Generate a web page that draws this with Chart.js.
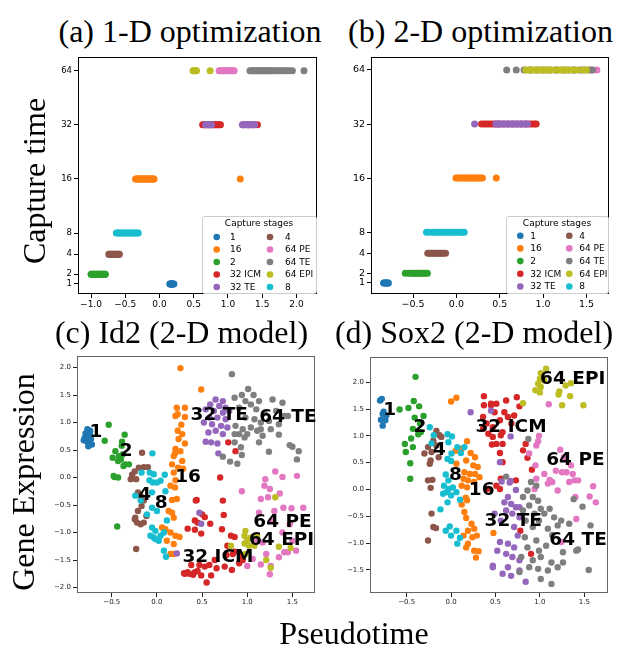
<!DOCTYPE html>
<html>
<head>
<meta charset="utf-8">
<script src="https://cdn.jsdelivr.net/npm/chart.js@4.4.1/dist/chart.umd.min.js"></script>
<style>
  html, body { margin: 0; padding: 0; background: #fff; }
  #fig { position: relative; width: 617px; height: 647px; overflow: hidden; }
  canvas { position: absolute; }
  .txt { position: absolute; font-family: "Liberation Serif", serif; font-size: 32px; line-height: 1;
         color: #000; white-space: nowrap; transform: translate(-50%, -50%); }
  .vert { transform: translate(-50%, -50%) rotate(-90deg); }
</style>
</head>
<body>
<div id="fig">
  <canvas id="panelA"></canvas>
  <canvas id="panelB"></canvas>
  <canvas id="panelC"></canvas>
  <canvas id="panelD"></canvas>
  <div class="txt" style="left:190px; top:30.5px">(a) 1-D optimization</div>
  <div class="txt" style="left:480.5px; top:30.5px">(b) 2-D optimization</div>
  <div class="txt" style="left:181.5px; top:332px">(c) Id2 (2-D model)</div>
  <div class="txt" style="left:474px; top:332px">(d) Sox2 (2-D model)</div>
  <div class="txt vert" style="left:34px; top:181px">Capture time</div>
  <div class="txt vert" style="left:23px; top:482px">Gene Expression</div>
  <div class="txt" style="left:354px; top:633px">Pseudotime</div>
</div>
<script>
// stages in legend order
const stages = ["1", "16", "2", "32 ICM", "32 TE", "4", "64 PE", "64 TE", "64 EPI", "8"];
const stageColors = ["#1f77b4", "#ff7f0e", "#2ca02c", "#d62728", "#9467bd",
                     "#8c564b", "#e377c2", "#7f7f7f", "#bcbd22", "#17becf"];
const stageCaptureTime = [1, 16, 2, 32, 32, 4, 64, 64, 64, 8];

// capture time axis (rows are where each time sits on the y axis)
const captureTimes = [1, 2, 4, 8, 16, 32, 64];
const captureRows = [3.06, 3.24, 3.61, 4, 5, 6, 7];

const pseudoTicksA = [-1.0, -0.5, 0.0, 0.5, 1.0, 1.5, 2.0];
const pseudoTicksB = [-0.5, 0.0, 0.5, 1.0, 1.5];
const pseudoTicksCD = [-0.5, 0.0, 0.5, 1.0, 1.5];
const exprTicksC = [-2.0, -1.5, -1.0, -0.5, 0.0, 0.5, 1.0, 1.5, 2.0];
const exprTicksD = [-1.5, -1.0, -0.5, 0.0, 0.5, 1.0, 1.5, 2.0];

// (a) pseudotime per stage, 1-D optimization
const pseudotime1D = [
  [0.15, 0.16, 0.165, 0.17, 0.18, 0.185, 0.19, 0.2, 0.21],
  [-0.35, -0.34, -0.32, -0.31, -0.3, -0.28, -0.27, -0.25, -0.24, -0.23, -0.21, -0.2, -0.19, -0.17, -0.16, -0.14, -0.13, -0.12, -0.1, -0.09, -0.08, 1.18],
  [-1.0, -0.99, -0.97, -0.96, -0.95, -0.93, -0.92, -0.91, -0.9, -0.88, -0.87, -0.86, -0.85, -0.84, -0.82, -0.81, -0.8, -0.79],
  [0.63, 0.65, 0.68, 0.71, 0.74, 0.77, 0.79, 0.81, 0.83, 0.85, 0.87, 0.89, 1.22, 1.3, 1.38, 1.43],
  [0.67, 0.69, 0.71, 0.73, 0.75, 0.76, 1.21, 1.23, 1.25, 1.27, 1.28, 1.3, 1.32, 1.33, 1.35, 1.37, 1.39],
  [-0.74, -0.73, -0.72, -0.7, -0.69, -0.68, -0.66, -0.65, -0.64, -0.62, -0.61, -0.6, -0.585],
  [0.87, 0.89, 0.91, 0.93, 0.95, 0.97, 0.99, 1.01, 1.03, 1.05, 1.07, 1.09],
  [1.32, 1.34, 1.36, 1.38, 1.4, 1.42, 1.44, 1.46, 1.48, 1.5, 1.52, 1.54, 1.56, 1.58, 1.6, 1.62, 1.64, 1.66, 1.69, 1.72, 1.75, 1.78, 1.81, 1.84, 1.87, 1.9, 1.94, 2.11],
  [0.49, 0.5, 0.52, 0.53, 0.54, 0.74],
  [-0.63, -0.61, -0.59, -0.57, -0.55, -0.53, -0.51, -0.49, -0.47, -0.45, -0.43, -0.41, -0.39, -0.37, -0.35, -0.33, -0.31]
];

// (b) pseudotime per stage, 2-D optimization
const pseudotime2D = [
  [-0.84, -0.83, -0.82, -0.81, -0.8, -0.79, -0.785],
  [-0.005, 0.02, 0.04, 0.06, 0.08, 0.1, 0.12, 0.14, 0.16, 0.18, 0.2, 0.22, 0.24, 0.26, 0.28, 0.3, 0.46],
  [-0.59, -0.55, -0.52, -0.5, -0.48, -0.46, -0.44, -0.42, -0.4, -0.38, -0.36, -0.335],
  [0.29, 0.32, 0.35, 0.38, 0.41, 0.44, 0.47, 0.5, 0.55, 0.6, 0.65, 0.7, 0.75, 0.8, 0.84, 0.87, 0.9, 0.92],
  [0.21, 0.455, 0.48, 0.5, 0.53, 0.55, 0.58, 0.6, 0.63, 0.65, 0.68, 0.7, 0.73, 0.75, 0.78, 0.8, 0.82],
  [-0.33, -0.31, -0.29, -0.27, -0.25, -0.23, -0.21, -0.19, -0.17, -0.15, -0.125],
  [0.85, 0.95, 1.05, 1.15, 1.25, 1.35, 1.45, 1.55, 1.62],
  [0.58, 0.69, 0.78, 0.85, 0.92, 1.0, 1.08, 1.15, 1.22, 1.3, 1.36, 1.42, 1.48, 1.53, 1.57],
  [0.8, 0.83, 0.86, 0.89, 0.92, 0.95, 0.98, 1.01, 1.04, 1.07, 1.1, 1.16, 1.19, 1.22, 1.25, 1.28, 1.34, 1.38, 1.45, 1.5],
  [-0.345, -0.32, -0.28, -0.25, -0.22, -0.19, -0.16, -0.13, -0.1, -0.07, -0.04, -0.01, 0.02, 0.05, 0.07, 0.09]
];

// (c) Id2 expression: [pseudotime, expression]
const id2Points = [
  [[-0.77,0.88],[-0.74,0.85],[-0.79,0.8],[-0.76,0.76],[-0.8,0.72],[-0.73,0.7],[-0.78,0.66],[-0.75,0.63],[-0.72,0.6],[-0.76,0.57],[-0.81,0.68],[-0.74,0.78]],
  [[0.26,1.99],[0.49,1.6],[0.22,1.27],[0.31,1.27],[0.205,1.12],[0.31,1.1],[0.23,1.15],[0.27,0.96],[0.23,0.85],[0.28,0.79],[0.24,0.7],[0.31,0.62],[0.205,0.52],[0.26,0.48],[0.186,0.39],[0.28,0.3],[0.168,0.24],[0.235,0.18],[0.186,0.09],[0.29,0.16],[0.2,0.44],[0.205,-0.05],[0.15,-0.15],[0.2,-0.18],[0.168,-0.41],[0.22,-0.39],[0.13,-0.61],[0.168,-0.64],[0.186,-0.73],[0.057,-0.91],[0.094,-0.94],[0.15,-1.0],[0.205,-1.06],[0.25,-1.08],[0.11,-1.15],[0.186,-1.21],[0.15,-1.39],[0.186,-1.39]],
  [[-0.534,0.96],[-0.578,0.67],[-0.357,0.78],[-0.386,0.65],[-0.39,0.58],[-0.46,0.48],[-0.49,0.36],[-0.42,0.39],[-0.38,0.42],[-0.43,0.3],[-0.4,0.33],[-0.35,0.24],[-0.31,0.24],[-0.37,0.21],[-0.47,0.01],[-0.43,0.0],[-0.48,0.03],[-0.44,-0.89]],
  [[0.7,0.0],[0.44,-0.41],[0.43,-0.42],[0.5,-0.67],[0.45,-0.82],[0.42,-0.78],[0.53,-0.72],[0.59,-0.84],[0.42,-0.95],[0.49,-1.02],[0.34,-0.93],[0.73,-0.42],[0.74,-0.68],[0.72,-0.94],[0.82,-1.06],[0.78,-1.24],[0.84,-1.39],[0.86,-1.08],[0.86,-1.35],[0.77,-1.41],[0.64,-1.5],[0.58,-1.59],[0.53,-1.62],[0.47,-1.59],[0.38,-1.59],[0.31,-1.75],[0.36,-1.75],[0.42,-1.72],[0.49,-1.78],[0.55,-1.91],[0.6,-1.78],[0.66,-1.65],[0.75,-1.62],[0.83,-1.68],[0.91,-1.56],[0.95,-1.5],[0.93,-1.41],[0.79,0.64],[0.87,0.48],[0.3,-1.74],[0.34,-1.72],[0.4,-1.77],[0.45,-1.7]],
  [[0.65,1.42],[0.73,1.39],[0.59,1.33],[0.69,1.3],[0.76,1.27],[0.54,1.24],[0.63,1.21],[0.73,1.18],[0.8,1.21],[0.58,1.09],[0.67,1.09],[0.76,1.06],[0.52,1.0],[0.61,0.97],[0.71,0.94],[0.78,0.91],[0.65,0.85],[0.73,0.79],[0.57,0.82],[0.54,0.65],[0.6,0.64],[0.67,0.62],[0.68,0.44],[0.47,-0.64],[0.49,-0.84],[0.22,-1.38]],
  [[-0.165,0.45],[-0.2,0.18],[-0.146,0.19],[-0.1,0.19],[-0.246,0.11],[-0.275,0.05],[-0.29,-0.03],[-0.23,-0.03],[-0.21,-0.27],[-0.18,-0.33],[-0.146,-0.42],[-0.17,-0.52],[-0.21,-0.61],[-0.24,-0.73],[-0.245,-0.76],[-0.22,-0.82],[-0.18,-0.85],[-0.146,-0.82],[-0.116,-0.7],[-0.23,-1.3]],
  [[1.31,0.11],[1.39,0.01],[1.55,0.03],[1.2,-0.03],[1.19,-0.15],[1.25,-0.21],[1.36,-0.29],[0.94,-0.25],[1.15,-0.39],[1.23,-0.36],[1.13,-0.64],[1.4,-0.55],[1.49,-0.56],[1.62,-0.55],[1.3,-0.61],[1.27,-0.79],[1.47,-0.85],[1.39,-1.0],[1.11,-1.15],[1.17,-1.18],[1.5,-1.15],[1.54,-1.33],[1.41,-1.36],[1.45,-1.36],[1.35,-1.45],[1.26,-1.61],[1.15,-1.58],[1.06,-1.48],[1.0,-1.61],[1.25,-1.76],[1.21,-1.39]],
  [[0.83,1.88],[1.01,1.61],[0.94,1.5],[1.07,1.5],[0.86,1.45],[0.98,1.39],[1.04,1.33],[1.13,1.39],[1.28,1.42],[1.39,1.36],[0.91,1.27],[1.1,1.24],[1.19,1.18],[1.32,1.21],[1.45,1.12],[1.41,1.12],[0.98,1.09],[1.08,1.06],[1.15,1.0],[1.24,1.03],[1.35,0.97],[0.87,0.94],[0.95,0.88],[1.04,0.91],[1.15,0.88],[1.26,0.88],[1.11,0.85],[1.17,0.76],[0.91,0.79],[0.86,0.79],[1.0,0.79],[0.97,0.73],[1.35,0.78],[1.13,0.64],[0.86,0.64],[0.93,0.55],[1.24,0.47],[1.47,0.59],[1.5,0.56],[1.57,0.48],[1.55,0.33],[0.73,0.38],[0.81,0.29],[0.89,0.25],[0.94,0.41]],
  [[1.31,-0.36],[0.98,-0.97],[0.97,-1.06],[1.0,-1.14],[1.04,-1.09],[1.11,-1.06],[0.97,-1.2],[1.02,-1.24],[0.82,-1.24],[1.08,-1.24],[1.35,-1.26],[1.48,-1.28],[1.21,-1.5],[1.26,-1.64],[0.98,-1.39]],
  [[-0.05,0.44],[-0.17,0.09],[-0.08,0.09],[-0.035,0.06],[-0.083,-0.05],[-0.045,-0.09],[0.0,-0.09],[0.04,-0.06],[0.087,0.05],[0.094,-0.25],[-0.054,-0.27],[-0.24,-0.33],[-0.18,-0.42],[-0.11,-0.67],[0.0,-0.61],[-0.054,-0.55],[0.11,-0.78],[-0.054,-0.91],[-0.017,-0.97],[-0.072,-1.06],[-0.035,-1.09],[-0.017,-1.12],[0.04,-1.06],[0.077,-1.0],[0.02,-1.15],[0.077,-1.33],[0.1,-1.44]]
];
const id2Labels = [["1", -0.675, 0.82], ["2", -0.34, 0.47], ["16", 0.345, 0.01], ["4", -0.135, -0.33],
                   ["8", 0.046, -0.47], ["32 TE", 0.69, 1.13], ["64 TE", 1.45, 1.1], ["64 PE", 1.39, -0.81],
                   ["64 EPI", 1.38, -1.14], ["32 ICM", 0.675, -1.44]];

// (d) Sox2 expression: [pseudotime, expression]
const sox2Points = [
  [[-0.78,1.69],[-0.8,1.66],[-0.77,1.41],[-0.73,1.38],[-0.79,1.3],[-0.74,1.29],[-0.77,1.19],[-0.76,1.45]],
  [[0.0,1.64],[0.06,1.71],[0.18,0.9],[0.05,0.72],[0.12,0.76],[0.22,0.68],[0.27,0.6],[0.17,0.54],[0.25,0.45],[0.3,0.42],[0.15,0.32],[0.21,0.29],[0.27,0.29],[0.32,0.23],[0.14,0.2],[0.19,0.17],[0.26,0.14],[0.12,0.07],[0.18,0.04],[0.06,0.48],[0.165,-0.155],[0.18,-0.2],[0.12,-0.28],[0.15,-0.42],[0.17,-0.53],[0.23,-0.64],[0.26,-0.73],[0.19,-0.77],[0.14,-0.86],[0.24,-0.89],[0.29,-0.86],[0.19,-1.01],[0.17,-1.08],[0.26,-1.14],[0.31,-1.15],[0.28,-1.27],[0.477,-0.81]],
  [[-0.4,2.1],[-0.42,1.65],[-0.58,1.49],[-0.48,1.52],[-0.36,1.55],[-0.41,1.34],[-0.31,1.37],[-0.35,1.23],[-0.43,1.13],[-0.34,1.07],[-0.37,1.03],[-0.45,0.95],[-0.52,0.85],[-0.43,0.79],[-0.51,0.7],[-0.46,0.49],[-0.46,0.2]],
  [[0.37,1.74],[0.37,1.57],[0.45,1.6],[0.36,1.35],[0.4,1.23],[0.36,1.13],[0.42,1.04],[0.46,0.84],[0.45,1.57],[0.51,1.6],[0.62,1.66],[0.74,1.72],[0.49,1.44],[0.6,1.44],[0.77,1.55],[0.64,1.35],[0.71,1.38],[0.55,1.29],[0.68,1.23],[0.47,1.16],[0.58,1.07],[0.47,0.98],[0.56,1.01],[0.51,0.85],[0.58,0.85],[0.84,0.85],[0.81,0.73],[0.86,0.59],[0.58,0.51],[0.55,0.68],[0.91,0.37],[0.73,0.17],[0.56,0.2],[0.55,0.01],[0.51,0.07],[0.41,0.01],[0.78,-0.77],[0.9,-1.2]],
  [[0.45,1.47],[0.22,1.44],[0.67,0.99],[0.55,0.51],[0.66,0.13],[0.57,0.15],[0.67,0.16],[0.73,-0.01],[0.64,-0.14],[0.6,-0.24],[0.676,-0.27],[0.73,-0.33],[0.77,-0.33],[0.62,-0.39],[0.69,-0.45],[0.77,-0.52],[0.49,-0.45],[0.56,-0.58],[0.71,-0.7],[0.75,-0.86],[0.55,-0.98],[0.64,-1.01],[0.71,-1.08],[0.52,-1.14],[0.62,-1.2],[0.69,-1.26],[0.77,-1.32],[0.47,-1.42],[0.64,-1.45],[0.47,-1.45],[0.77,-1.51],[0.58,-1.57],[0.676,-1.61],[0.84,-1.72]],
  [[-0.165,1.09],[-0.13,1.01],[-0.11,0.98],[-0.2,0.91],[-0.26,0.79],[-0.165,0.82],[-0.22,0.7],[-0.3,0.67],[-0.14,0.6],[-0.23,0.54],[-0.24,0.48],[-0.26,0.17],[-0.21,0.18],[-0.23,0.03],[-0.22,-0.45],[-0.2,-0.7],[-0.17,-0.72],[-0.26,-0.95]],
  [[1.1,1.59],[0.99,1.0],[0.98,0.9],[0.96,0.82],[0.88,0.67],[0.95,0.45],[1.05,0.29],[0.96,0.2],[1.11,0.18],[1.18,0.35],[1.25,0.32],[1.3,0.32],[1.23,0.74],[1.27,0.6],[1.35,0.45],[1.37,0.29],[1.39,0.17],[1.14,0.14],[1.2,-0.02],[1.33,0.14],[1.43,0.17],[1.6,0.06],[1.63,-0.24],[1.56,-0.13],[1.4,-0.14],[1.41,-0.55],[1.24,-0.98],[1.09,0.11],[0.94,0.01]],
  [[0.87,0.94],[0.62,0.24],[0.9,0.14],[0.96,0.07],[0.86,-0.02],[0.81,-0.14],[0.92,-0.14],[0.98,-0.21],[0.88,-0.3],[1.01,-0.36],[1.11,-0.36],[0.81,-0.39],[0.94,-0.45],[1.05,-0.45],[1.16,-0.52],[0.84,-0.58],[0.99,-0.58],[1.24,-0.58],[1.33,-0.64],[0.92,-0.7],[1.09,-0.73],[1.2,-0.67],[1.38,-0.18],[1.48,-0.32],[1.57,-0.67],[0.83,-0.89],[1.14,-0.85],[0.96,-0.95],[1.41,-1.14],[1.43,-1.12],[0.86,-1.08],[0.99,-1.14],[1.07,-1.05],[1.26,-1.17],[0.79,-1.26],[0.92,-1.32],[1.01,-1.26],[1.13,-1.36],[1.26,-1.36],[0.88,-1.45],[0.98,-1.48],[1.09,-1.51],[1.2,-1.45],[0.77,-1.54],[1.01,-1.67],[1.13,-1.76],[1.55,-1.5]],
  [[1.07,2.25],[1.01,2.17],[1.0,2.06],[1.05,2.03],[0.98,1.97],[1.01,1.91],[0.95,1.85],[1.0,1.81],[1.22,1.83],[1.21,1.77],[1.29,1.94],[1.35,1.98],[1.34,1.74],[1.25,1.57],[1.49,1.57],[0.81,1.61]],
  [[-0.24,1.16],[-0.195,1.01],[-0.22,0.86],[-0.04,1.03],[0.01,0.99],[-0.03,0.88],[0.07,0.79],[0.004,0.67],[-0.04,0.57],[0.0,0.53],[0.11,0.68],[0.15,0.79],[-0.06,0.28],[-0.03,0.17],[-0.08,0.07],[-0.026,0.01],[-0.05,-0.05],[-0.09,-0.08],[0.06,-0.05],[0.0,-0.11],[0.02,0.04],[-0.04,-0.24],[0.1,-0.19],[-0.12,-0.37],[-0.015,-0.69],[-0.06,-0.77],[0.0,-0.86],[0.06,-0.77],[0.1,-0.9],[0.07,-1.01]]
];
const sox2Labels = [["1", -0.69, 1.48], ["2", -0.35, 1.17], ["4", -0.13, 0.73], ["8", 0.05, 0.27],
                    ["16", 0.345, -0.02], ["32 ICM", 0.675, 1.17], ["32 TE", 0.7, -0.6],
                    ["64 EPI", 1.37, 2.06], ["64 PE", 1.4, 0.55], ["64 TE", 1.43, -0.95]];

// ---------- helpers ----------
const Y_W = 40, X_H = 24, PAD_TOP = 8, PAD_RIGHT = 6;

function fmtNum(v) {
    return (v < 0 ? "\u2212" : "") + Math.abs(v).toFixed(1);
}

function framePlugin(color) {
    return {
        id: "frame",
        afterDatasetsDraw(chart) {
            const { ctx, chartArea: a } = chart;
            ctx.save();
            ctx.strokeStyle = color;
            ctx.lineWidth = 1;
            ctx.strokeRect(Math.round(a.left) + 0.5, Math.round(a.top) + 0.5,
                Math.round(a.right - a.left) - 1, Math.round(a.bottom - a.top) - 1);
            ctx.restore();
        }
    };
}

function legendPlugin(lay) {
    return {
        id: "stageLegend",
        afterDraw(chart) {
            const { ctx, chartArea: a } = chart;
            const left = a.right - lay.right - lay.width;
            const top = a.bottom - lay.bottom - lay.height;
            ctx.save();
            ctx.beginPath();
            ctx.roundRect(Math.round(left) + 0.5, Math.round(top) + 0.5, lay.width, lay.height, 2);
            ctx.fillStyle = "rgba(255,255,255,0.8)";
            ctx.fill();
            ctx.strokeStyle = "#cccccc";
            ctx.lineWidth = 1;
            ctx.stroke();
            ctx.font = '9px "DejaVu Sans"';
            ctx.textBaseline = "middle";
            ctx.textAlign = "center";
            ctx.fillStyle = "#000";
            ctx.fillText("Capture stages", left + lay.width / 2, top + lay.titleY);
            ctx.textAlign = "left";
            chart.data.datasets.forEach((ds, i) => {
                const col = Math.floor(i / 5), row = i % 5;
                const y = top + lay.rowY + row * lay.rowGap;
                ctx.fillStyle = ds.backgroundColor;
                ctx.beginPath();
                ctx.arc(left + lay.markerX[col], y, 3.3, 0, Math.PI * 2);
                ctx.fill();
                ctx.fillStyle = "#000";
                ctx.fillText(ds.label, left + lay.labelX[col], y + 0.5);
            });
            ctx.restore();
        }
    };
}

function labelPlugin(labels) {
    return {
        id: "clusterLabels",
        afterDatasetsDraw(chart) {
            const { ctx, scales } = chart;
            ctx.save();
            ctx.font = 'bold 18.5px "DejaVu Sans"';
            ctx.fillStyle = "#000";
            ctx.textAlign = "center";
            ctx.textBaseline = "middle";
            labels.forEach(([t, vx, vy]) => {
                ctx.fillText(t, scales.x.getPixelForValue(vx), scales.y.getPixelForValue(vy));
            });
            ctx.restore();
        }
    };
}

function rowDatasets(xsByStage) {
    return stages.map((s, i) => {
        const row = captureRows[captureTimes.indexOf(stageCaptureTime[i])];
        return {
            label: s,
            data: xsByStage[i].map(x => ({ x: x, y: row })),
            backgroundColor: stageColors[i],
            pointRadius: 3.5, pointHoverRadius: 3.5, pointBorderWidth: 0,
            order: -i
        };
    });
}

function pointDatasets(pointsByStage) {
    return stages.map((s, i) => ({
        label: s,
        data: pointsByStage[i].map(p => ({ x: p[0], y: p[1] })),
        backgroundColor: stageColors[i],
        pointRadius: 3.2, pointHoverRadius: 3.2, pointBorderWidth: 0,
        order: -i
    }));
}

function axis(min, max, tickValues, fontSize, color, fmt, isX) {
    return {
        type: "linear", min: min, max: max,
        afterBuildTicks: s => { s.ticks = tickValues.map(v => ({ value: v })); },
        afterFit: s => {
            if (isX) { s.height = X_H; s.paddingLeft = 0; s.paddingRight = 0; }
            else { s.width = Y_W; s.paddingTop = 0; s.paddingBottom = 0; }
        },
        ticks: {
            autoSkip: false, maxRotation: 0, padding: 2, color: color,
            font: { family: "DejaVu Sans", size: fontSize, lineHeight: 1 },
            callback: fmt
        },
        grid: { drawOnChartArea: false, drawTicks: true, tickLength: 4, color: color, lineWidth: 1 },
        border: { display: false }
    };
}

function makePanel(id, box, datasets, xScale, yScale, plugins) {
    const cv = document.getElementById(id);
    const w = Y_W + (box[2] - box[0]) + PAD_RIGHT;
    const h = PAD_TOP + (box[3] - box[1]) + X_H;
    cv.width = w; cv.height = h;
    cv.style.left = (box[0] - Y_W) + "px";
    cv.style.top = (box[1] - PAD_TOP) + "px";
    return new Chart(cv.getContext("2d"), {
        type: "scatter",
        data: { datasets: datasets },
        options: {
            responsive: false, animation: false, events: [],
            layout: { padding: { left: 0, top: PAD_TOP, right: PAD_RIGHT, bottom: 0 } },
            plugins: { legend: { display: false }, tooltip: { enabled: false } },
            scales: { x: xScale, y: yScale }
        },
        plugins: plugins
    });
}

const timeLabel = v => {
    const k = captureRows.findIndex(r => Math.abs(r - v) < 1e-6);
    return k < 0 ? "" : String(captureTimes[k]);
};

// (a)
makePanel("panelA", [78, 57, 317, 294], rowDatasets(pseudotime1D),
    axis(-1.19, 2.30, pseudoTicksA, 9, "#000", fmtNum, true),
    axis(2.875, 7.254, captureRows, 8.5, "#000", timeLabel, false),
    [framePlugin("#000"), legendPlugin({ width: 114, height: 77, right: 1, bottom: 1, titleY: 8,
        rowY: 21, rowGap: 12.5, markerX: [14.7, 68], labelX: [28, 83] })]);

// (b)
makePanel("panelB", [371, 57, 609, 294], rowDatasets(pseudotime2D),
    axis(-0.985, 1.76, pseudoTicksB, 9.5, "#000", fmtNum, true),
    axis(2.856, 7.24, captureRows, 9.5, "#000", timeLabel, false),
    [framePlugin("#000"), legendPlugin({ width: 102, height: 77, right: 1, bottom: 1, titleY: 8,
        rowY: 19.7, rowGap: 12.7, markerX: [14.3, 63.3], labelX: [24.3, 73.3] })]);

// (c)
makePanel("panelC", [77, 356, 315, 593], pointDatasets(id2Points),
    axis(-0.885, 1.75, pseudoTicksCD, 7, "#222", fmtNum, true),
    axis(-2.10, 2.21, exprTicksC, 7, "#222", fmtNum, false),
    [framePlugin("#666"), labelPlugin(id2Labels)]);

// (d)
makePanel("panelD", [370, 357, 608, 593], pointDatasets(sox2Points),
    axis(-0.913, 1.767, pseudoTicksCD, 7, "#222", fmtNum, true),
    axis(-1.93, 2.47, exprTicksD, 7, "#222", fmtNum, false),
    [framePlugin("#666"), labelPlugin(sox2Labels)]);
</script>
</body>
</html>
